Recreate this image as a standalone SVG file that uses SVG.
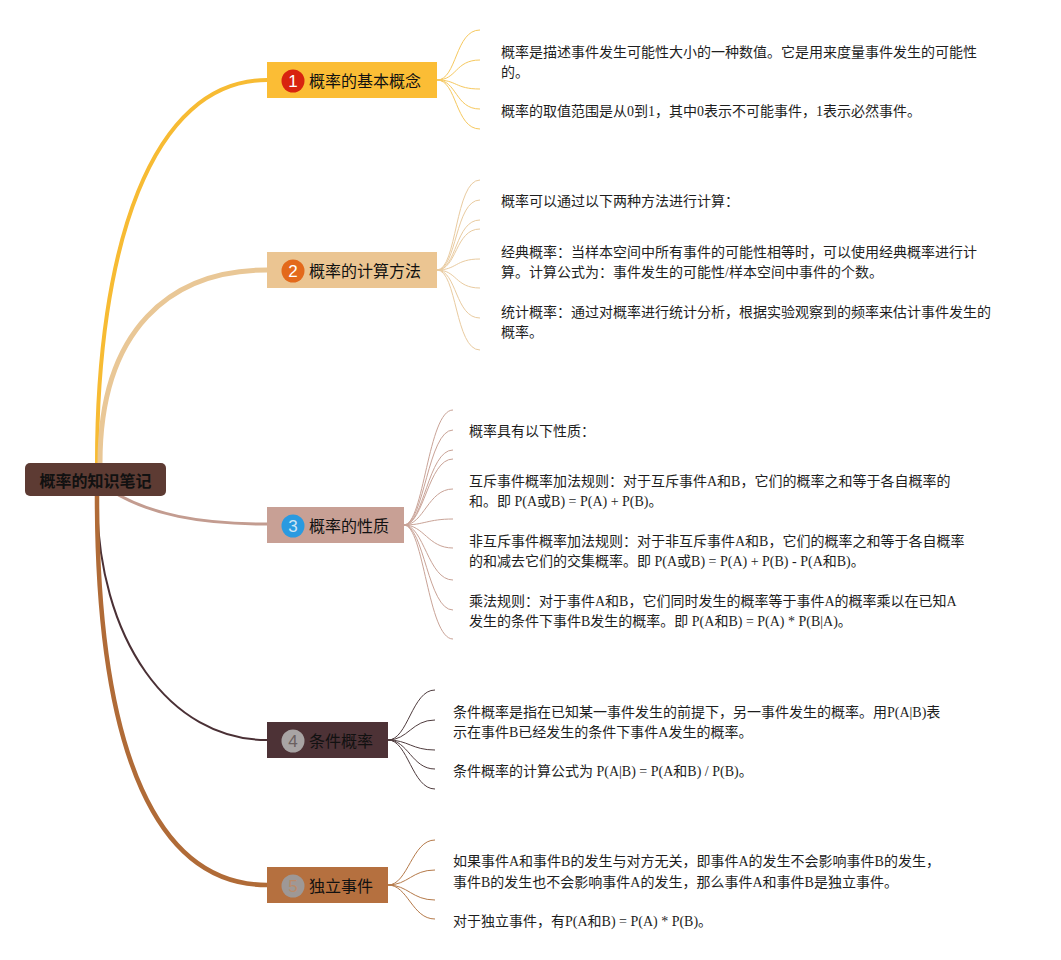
<svg xmlns="http://www.w3.org/2000/svg" width="1061" height="960" viewBox="0 0 1061 960">
<style>
.lbl{font-family:"Noto Sans CJK SC","Noto Sans",sans-serif;font-size:16px;fill:#111;dominant-baseline:central}
.num{font-family:"Liberation Sans","Noto Sans",sans-serif;font-size:17px;fill:#fff;text-anchor:middle;dominant-baseline:central}
.t{font-family:"Liberation Serif","Noto Sans CJK SC",serif;font-size:14px;fill:#1e1e1e}
.fan{fill:none;stroke-width:1}
.main{fill:none;stroke-linecap:round}
</style>
<rect width="1061" height="960" fill="#ffffff"/>
<g id="connectors">
  <path class="main" d="M97,463 C97,250 150,80 267,80" stroke="#f7bb33" stroke-width="4"/>
  <path class="main" d="M100,463 C100,330 170,270 267,270" stroke="#e9c796" stroke-width="5"/>
  <path class="main" d="M110,490 C150,515 200,524 267,524" stroke="#c39c90" stroke-width="3"/>
  <path class="main" d="M97,496 C97,640 170,740 267,740" stroke="#4a3035" stroke-width="2"/>
  <path class="main" d="M97,496 C97,760 160,885 267,885" stroke="#b06b37" stroke-width="4.5"/>
  <g stroke="#f6c85e" class="fan">
    <path d="M437,80 C457,80 455,30 480,30"/>
    <path d="M437,80 C457,80 455,60 480,60"/>
    <path d="M437,80 C457,80 455,89 480,89"/>
    <path d="M437,80 C457,80 455,109 480,109"/>
    <path d="M437,80 C457,80 455,129 480,129"/>
  </g>
  <g stroke="#e9cba0" class="fan">
    <path d="M437,270 C457,270 455,180 480,180"/>
    <path d="M437,270 C457,270 455,200 480,200"/>
    <path d="M437,270 C457,270 455,220 480,220"/>
    <path d="M437,270 C457,270 455,229 480,229"/>
    <path d="M437,270 C457,270 455,259 480,259"/>
    <path d="M437,270 C457,270 455,288 480,288"/>
    <path d="M437,270 C457,270 455,318 480,318"/>
    <path d="M437,270 C457,270 455,350 480,350"/>
  </g>
  <g stroke="#c9a397" class="fan">
    <path d="M404,525 C424,525 428,410 453,410"/>
    <path d="M404,525 C424,525 428,430 453,430"/>
    <path d="M404,525 C424,525 428,450 453,450"/>
    <path d="M404,525 C424,525 428,459 453,459"/>
    <path d="M404,525 C424,525 428,489 453,489"/>
    <path d="M404,525 C424,525 428,519 453,519"/>
    <path d="M404,525 C424,525 428,548 453,548"/>
    <path d="M404,525 C424,525 428,580 453,580"/>
    <path d="M404,525 C424,525 428,610 453,610"/>
    <path d="M404,525 C424,525 428,639 453,639"/>
  </g>
  <g stroke="#4f3c3e" class="fan">
    <path d="M388,740 C408,740 412,690 435,690"/>
    <path d="M388,740 C408,740 412,720 435,720"/>
    <path d="M388,740 C408,740 412,750 435,750"/>
    <path d="M388,740 C408,740 412,769 435,769"/>
    <path d="M388,740 C408,740 412,789 435,789"/>
  </g>
  <g stroke="#b57a4a" class="fan">
    <path d="M388,885 C408,885 412,840 435,840"/>
    <path d="M388,885 C408,885 412,870 435,870"/>
    <path d="M388,885 C408,885 412,900 435,900"/>
    <path d="M388,885 C408,885 412,919 435,919"/>
  </g>
</g>
<g id="root">
  <rect x="25" y="463" width="141" height="33" rx="5" fill="#5d3b33"/>
  <text x="95.5" y="480" text-anchor="middle" style="font-family:'Noto Sans CJK SC',sans-serif;font-size:16px;font-weight:bold;fill:#111;dominant-baseline:central">概率的知识笔记</text>
</g>
<g id="n1">
  <rect x="267" y="62" width="170" height="36" fill="#fbbd35"/>
  <circle cx="293" cy="81" r="11.5" fill="#d8230f"/>
  <text class="num" x="293" y="81">1</text>
  <text class="lbl" x="309" y="80">概率的基本概念</text>
</g>
<g id="n2">
  <rect x="267" y="252" width="170" height="36" fill="#ebc592"/>
  <circle cx="293" cy="271" r="11.5" fill="#e3691b"/>
  <text class="num" x="293" y="271">2</text>
  <text class="lbl" x="309" y="270">概率的计算方法</text>
</g>
<g id="n3">
  <rect x="267" y="507" width="137" height="36" fill="#c8a095"/>
  <circle cx="293" cy="526" r="11.5" fill="#2a9ae0"/>
  <text class="num" x="293" y="526" style="fill:#cfe6f5">3</text>
  <text class="lbl" x="309" y="525">概率的性质</text>
</g>
<g id="n4">
  <rect x="267" y="722" width="121" height="36" fill="#4d3236"/>
  <circle cx="293" cy="741" r="11.5" fill="#a8a4a4"/>
  <text class="num" x="293" y="741" style="fill:#6a6060">4</text>
  <text class="lbl" x="309" y="740">条件概率</text>
</g>
<g id="n5">
  <rect x="267" y="867" width="121" height="36" fill="#b5703f"/>
  <circle cx="293" cy="886" r="11.5" fill="#9e9896"/>
  <text class="num" x="293" y="886" style="fill:#b98a6a">5</text>
  <text class="lbl" x="309" y="885">独立事件</text>
</g>
<g id="notes1">
  <text class="t" x="501" y="57">概率是描述事件发生可能性大小的一种数值。它是用来度量事件发生的可能性</text>
  <text class="t" x="501" y="77">的。</text>
  <text class="t" x="501" y="116">概率的取值范围是从0到1，其中0表示不可能事件，1表示必然事件。</text>
</g>
<g id="notes2">
  <text class="t" x="501" y="206">概率可以通过以下两种方法进行计算：</text>
  <text class="t" x="501" y="257">经典概率：当样本空间中所有事件的可能性相等时，可以使用经典概率进行计</text>
  <text class="t" x="501" y="277">算。计算公式为：事件发生的可能性/样本空间中事件的个数。</text>
  <text class="t" x="501" y="317">统计概率：通过对概率进行统计分析，根据实验观察到的频率来估计事件发生的</text>
  <text class="t" x="501" y="337">概率。</text>
</g>
<g id="notes3">
  <text class="t" x="469" y="436">概率具有以下性质：</text>
  <text class="t" x="469" y="486">互斥事件概率加法规则：对于互斥事件A和B，它们的概率之和等于各自概率的</text>
  <text class="t" x="469" y="506">和。即 P(A或B) = P(A) + P(B)。</text>
  <text class="t" x="469" y="546">非互斥事件概率加法规则：对于非互斥事件A和B，它们的概率之和等于各自概率</text>
  <text class="t" x="469" y="566">的和减去它们的交集概率。即 P(A或B) = P(A) + P(B) - P(A和B)。</text>
  <text class="t" x="469" y="606">乘法规则：对于事件A和B，它们同时发生的概率等于事件A的概率乘以在已知A</text>
  <text class="t" x="469" y="626">发生的条件下事件B发生的概率。即 P(A和B) = P(A) * P(B|A)。</text>
</g>
<g id="notes4">
  <text class="t" x="453" y="717">条件概率是指在已知某一事件发生的前提下，另一事件发生的概率。用P(A|B)表</text>
  <text class="t" x="453" y="737">示在事件B已经发生的条件下事件A发生的概率。</text>
  <text class="t" x="453" y="776">条件概率的计算公式为 P(A|B) = P(A和B) / P(B)。</text>
</g>
<g id="notes5">
  <text class="t" x="453" y="866">如果事件A和事件B的发生与对方无关，即事件A的发生不会影响事件B的发生，</text>
  <text class="t" x="453" y="887">事件B的发生也不会影响事件A的发生，那么事件A和事件B是独立事件。</text>
  <text class="t" x="453" y="926">对于独立事件，有P(A和B) = P(A) * P(B)。</text>
</g>
</svg>
